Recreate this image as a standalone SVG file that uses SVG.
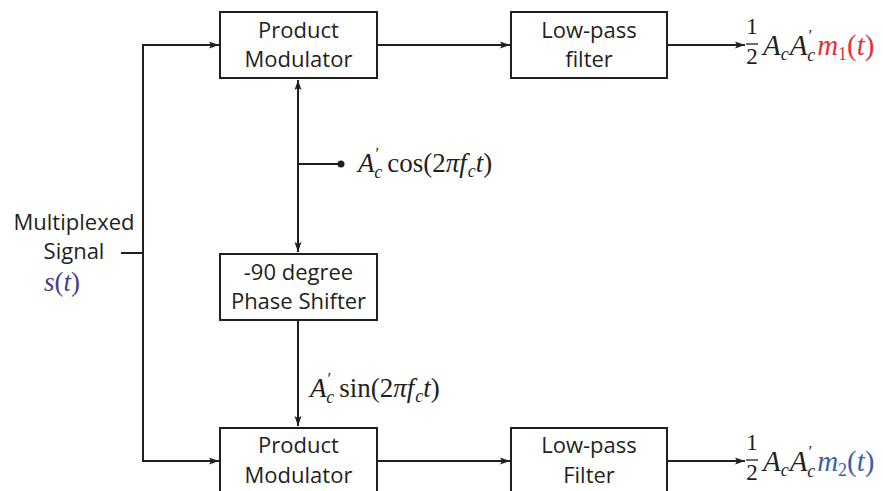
<svg xmlns="http://www.w3.org/2000/svg" width="883" height="491" viewBox="0 0 883 491">
  <style>
    .box { fill: #ffffff; stroke: #231f20; stroke-width: 2; }
    .wire { fill: none; stroke: #231f20; stroke-width: 2; }
    .lbl { font-family: "Open Sans", "Noto Sans", "Liberation Sans", sans-serif; font-size: 22px; fill: #231f20; text-anchor: middle; }
    .m { font-family: "Liberation Serif", "DejaVu Serif", serif; font-size: 27px; fill: #231f20; }
    .mo { font-size: 29px; }
    .i { font-style: italic; }
    .sub { font-size: 18px; }
    .pr { font-size: 17px; }
    .frac { font-family: "Liberation Serif", "DejaVu Serif", serif; font-size: 23px; fill: #231f20; text-anchor: middle; }
    .red { fill: #e2323a; }
    .blue { fill: #3c5fae; }
    .purple { fill: #4a3a8c; }
  </style>
  <defs>
    <marker id="arrow" viewBox="0 0 10 10" refX="10" refY="5" markerWidth="10" markerHeight="10" markerUnits="userSpaceOnUse" orient="auto">
      <path d="M0,1.5 L10,5 L0,8.5 L2,5 Z" fill="#231f20"/>
    </marker>
  </defs>

  <!-- connectors -->
  <g id="connectors">
    <!-- input stub and distribution bus -->
    <line class="wire" x1="121" y1="253" x2="143" y2="253"/>
    <polyline class="wire" points="219,45 143,45 143,461 219,461" marker-end="url(#arrow)"/>
    <line class="wire" x1="143" y1="45" x2="219" y2="45" marker-end="url(#arrow)"/>
    <!-- carrier feed: up to top modulator, down to phase shifter -->
    <line class="wire" x1="298" y1="164" x2="298" y2="80" marker-end="url(#arrow)"/>
    <line class="wire" x1="298" y1="164" x2="298" y2="252" marker-end="url(#arrow)"/>
    <line class="wire" x1="298" y1="164" x2="341" y2="164"/>
    <circle cx="341" cy="164" r="3.5" fill="#231f20"/>
    <!-- shifted carrier to bottom modulator -->
    <line class="wire" x1="298" y1="321" x2="298" y2="426" marker-end="url(#arrow)"/>
    <!-- modulator to filter -->
    <line class="wire" x1="377" y1="45" x2="510" y2="45" marker-end="url(#arrow)"/>
    <line class="wire" x1="377" y1="461" x2="510" y2="461" marker-end="url(#arrow)"/>
    <!-- filter outputs -->
    <line class="wire" x1="667" y1="45" x2="745" y2="45" marker-end="url(#arrow)"/>
    <line class="wire" x1="667" y1="461" x2="745" y2="461" marker-end="url(#arrow)"/>
  </g>

  <!-- nodes -->
  <g id="product-modulator-1">
    <rect class="box" x="220" y="12" width="157" height="66"/>
    <text class="lbl" x="298.5" y="38">Product</text>
    <text class="lbl" x="298.5" y="67">Modulator</text>
  </g>
  <g id="low-pass-filter-1">
    <rect class="box" x="511" y="12" width="156" height="66"/>
    <text class="lbl" x="589" y="38">Low-pass</text>
    <text class="lbl" x="589" y="67">filter</text>
  </g>
  <g id="phase-shifter">
    <rect class="box" x="220" y="254" width="157" height="66"/>
    <text class="lbl" x="298.5" y="280">-90 degree</text>
    <text class="lbl" x="298.5" y="309">Phase Shifter</text>
  </g>
  <g id="product-modulator-2">
    <rect class="box" x="220" y="428" width="157" height="70"/>
    <text class="lbl" x="298.5" y="453">Product</text>
    <text class="lbl" x="298.5" y="483">Modulator</text>
  </g>
  <g id="low-pass-filter-2">
    <rect class="box" x="511" y="428" width="156" height="70"/>
    <text class="lbl" x="589" y="453">Low-pass</text>
    <text class="lbl" x="589" y="483">Filter</text>
  </g>

  <!-- input signal label -->
  <g id="input-label">
    <text class="lbl" x="74" y="230">Multiplexed</text>
    <text class="lbl" x="74" y="259">Signal</text>
    <text class="m purple" x="44" y="291" font-size="25"><tspan class="i">s</tspan>(<tspan class="i">t</tspan>)</text>
  </g>

  <!-- carrier labels: A'_c with prime stacked over the subscript -->
  <g id="cos-label">
    <text class="m" x="358" y="172"><tspan class="i">A</tspan><tspan class="pr" dx="1" dy="-13">′</tspan><tspan class="i sub" dx="-5" dy="19">c</tspan><tspan dx="5" dy="-6">cos(2</tspan><tspan class="i">π</tspan><tspan class="i">f</tspan><tspan class="i sub" dx="1" dy="5">c</tspan><tspan class="i" dy="-5">t</tspan>)</text>
  </g>
  <g id="sin-label">
    <text class="m" x="310" y="397"><tspan class="i">A</tspan><tspan class="pr" dx="1" dy="-13">′</tspan><tspan class="i sub" dx="-5" dy="19">c</tspan><tspan dx="5" dy="-6">sin(2</tspan><tspan class="i">π</tspan><tspan class="i">f</tspan><tspan class="i sub" dx="1" dy="5">c</tspan><tspan class="i" dy="-5">t</tspan>)</text>
  </g>

  <!-- output labels -->
  <g id="output-1">
    <text class="frac" x="752" y="34">1</text>
    <line x1="746" y1="44" x2="758" y2="44" stroke="#231f20" stroke-width="1.3"/>
    <text class="frac" x="752" y="64">2</text>
    <text class="m mo" x="763" y="55"><tspan class="i">A</tspan><tspan class="i sub" dy="5">c</tspan><tspan class="i" dx="1" dy="-5">A</tspan><tspan class="pr" dx="1" dy="-14">′</tspan><tspan class="i sub" dx="-5" dy="20">c</tspan><tspan class="red" dx="2" dy="-6"><tspan class="i">m</tspan><tspan class="sub" dy="5">1</tspan><tspan dy="-5">(</tspan><tspan class="i">t</tspan>)</tspan></text>
  </g>
  <g id="output-2">
    <text class="frac" x="752" y="450">1</text>
    <line x1="746" y1="460" x2="758" y2="460" stroke="#231f20" stroke-width="1.3"/>
    <text class="frac" x="752" y="480">2</text>
    <text class="m mo" x="763" y="471"><tspan class="i">A</tspan><tspan class="i sub" dy="5">c</tspan><tspan class="i" dx="1" dy="-5">A</tspan><tspan class="pr" dx="1" dy="-14">′</tspan><tspan class="i sub" dx="-5" dy="20">c</tspan><tspan class="blue" dx="2" dy="-6"><tspan class="i">m</tspan><tspan class="sub" dy="5">2</tspan><tspan dy="-5">(</tspan><tspan class="i">t</tspan>)</tspan></text>
  </g>
</svg>
